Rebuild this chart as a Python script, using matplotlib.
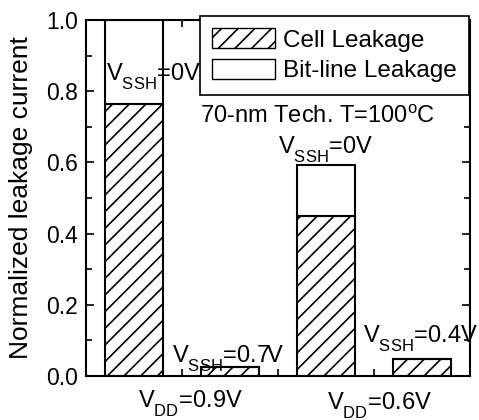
import matplotlib
matplotlib.use('Agg')
import matplotlib.pyplot as plt
from matplotlib.patches import Patch
from matplotlib.ticker import MultipleLocator

plt.rcParams['font.family'] = ['Liberation Sans', 'DejaVu Sans']
plt.rcParams['mathtext.fontset'] = 'custom'
plt.rcParams['mathtext.rm'] = 'Liberation Sans'
plt.rcParams['mathtext.default'] = 'rm'
plt.rcParams['hatch.linewidth'] = 1.2

# push subscripts lower, like the original figure
try:
    import matplotlib._mathtext as _mt
    _mt.FontConstantsBase.sub1 = 0.75
except Exception:
    pass

# data
positions = [1, 3, 5, 7]
cell_leak = [0.764, 0.024, 0.450, 0.048]
bitline_leak = [0.236, 0.0, 0.143, 0.0]
vdd_labels = [r'V$_{\mathrm{DD}}$=0.9V', r'V$_{\mathrm{DD}}$=0.6V']
vssh_labels = [r'V$_{\mathrm{SSH}}$=0V', r'V$_{\mathrm{SSH}}$=0.7V',
               r'V$_{\mathrm{SSH}}$=0V', r'V$_{\mathrm{SSH}}$=0.4V']

fs = 17

fig = plt.figure(figsize=(4.79, 4.2), dpi=100)
ax = fig.add_axes([86 / 479, 44 / 420, 384 / 479, 356 / 420])

ax.bar(positions, cell_leak, width=1.2, color='white', edgecolor='black',
       hatch='//', linewidth=1.5, zorder=2)
ax.bar(positions, bitline_leak, width=1.2, bottom=cell_leak, color='white',
       edgecolor='black', linewidth=1.5, zorder=2)

ax.set_xlim(0, 8)
ax.set_ylim(0, 1.0)
ax.xaxis.set_major_locator(MultipleLocator(1))
ax.yaxis.set_major_locator(MultipleLocator(0.2))
ax.yaxis.set_minor_locator(MultipleLocator(0.1))
ax.set_xticklabels([])
ax.tick_params(axis='both', which='both', direction='in', top=True, right=True,
               width=1.2, labelsize=16.5)
ax.tick_params(axis='both', which='major', length=6, pad=6)
ax.tick_params(axis='both', which='minor', length=4)
ax.tick_params(axis='x', which='major', length=5)
for s in ax.spines.values():
    s.set_linewidth(1.5)

ax.set_ylabel('Normalized leakage current', fontsize=19, labelpad=9)

# annotations
ax.text(0.42, 0.83, vssh_labels[0], fontsize=fs, ha='left', va='baseline', zorder=5)
ax.text(1.79, 0.04, vssh_labels[1], fontsize=fs, ha='left', va='baseline', zorder=5)
ax.text(5.0, 0.626, vssh_labels[2], fontsize=fs, ha='center', va='baseline', zorder=5)
ax.text(5.77, 0.096, vssh_labels[3], fontsize=fs, ha='left', va='baseline', zorder=5,
        clip_on=False)
ax.text(4.83, 0.71, r'70-nm Tech. T=100$^{\mathrm{o}}$C', fontsize=fs,
        ha='center', va='baseline')

ax.text(1.08, -0.087, vdd_labels[0], fontsize=fs, ha='left', va='baseline',
        clip_on=False)
ax.text(5.02, -0.092, vdd_labels[1], fontsize=fs, ha='left', va='baseline',
        clip_on=False)

handles = [Patch(facecolor='white', edgecolor='black', hatch='//', label='Cell Leakage'),
           Patch(facecolor='white', edgecolor='black', label='Bit-line Leakage')]
leg = ax.legend(handles=handles, loc='upper left', bbox_to_anchor=(0.297, 1.011),
                borderaxespad=0, fontsize=17.5, frameon=True, fancybox=False,
                edgecolor='black', framealpha=1, handlelength=2.6, handleheight=0.9,
                handletextpad=0.3, labelspacing=0.3, borderpad=0.5)
leg.get_frame().set_linewidth(1.2)
leg.set_zorder(10)

fig.savefig('out.png', dpi=100)
